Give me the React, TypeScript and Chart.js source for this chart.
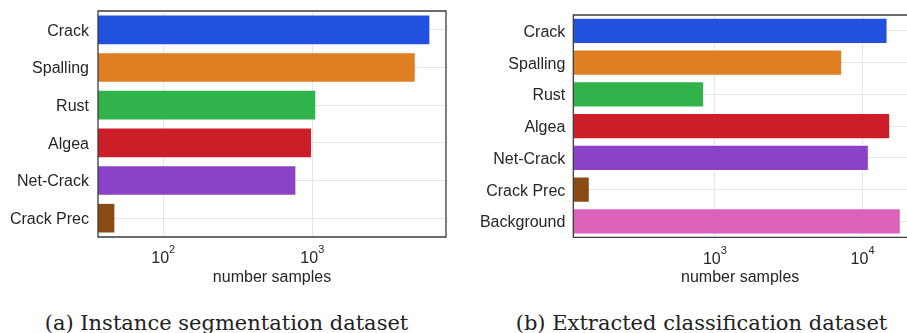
import React, { useEffect, useRef } from "react";
import { Chart, registerables } from "chart.js";

Chart.register(...registerables);

// Instance segmentation dataset: samples per class
const segCategories = ["Crack", "Spalling", "Rust", "Algea", "Net-Crack", "Crack Prec"];
const segCounts = [6100, 4870, 1047, 980, 770, 47];

// Extracted classification dataset: samples per class
const clsCategories = ["Crack", "Spalling", "Rust", "Algea", "Net-Crack", "Crack Prec", "Background"];
const clsCounts = [14540, 7165, 833, 15150, 10860, 140, 17870];

// Major ticks on the log axes (decades)
const segTicks = [100, 1000];
const clsTicks = [1000, 10000];

const axisTitle = "number samples";
const captionA = "(a) Instance segmentation dataset";
const captionB = "(b) Extracted classification dataset";

const palette = ["#2251e0", "#e07e22", "#2fb34a", "#cc1e28", "#8942c8", "#8a4a14", "#dc61b8"];

const SANS = "'Liberation Sans', Arial, sans-serif";
const TEXT = "#262626";
const GRID = "#e6e6e6";

// Dark frame around the plot area
const framePlugin = {
  id: "frame",
  afterDatasetsDraw(chart: any, _args: any, opts: any) {
    const { ctx, chartArea } = chart;
    const { left, top, right, bottom } = chartArea;
    ctx.save();
    ctx.strokeStyle = "#3c3c3c";
    ctx.lineWidth = 1.3;
    ctx.beginPath();
    if (opts.closed) {
      ctx.rect(left, top, right - left, bottom - top);
    } else {
      ctx.moveTo(right + 2, top);
      ctx.lineTo(left, top);
      ctx.lineTo(left, bottom);
      ctx.lineTo(right + 2, bottom);
    }
    ctx.stroke();
    ctx.restore();
  },
};

// Log-axis labels written as 10 with a raised exponent
const powerLabelPlugin = {
  id: "powerLabels",
  afterDraw(chart: any) {
    const { ctx, chartArea } = chart;
    const scale = chart.scales.x;
    const baseY = chartArea.bottom + 26.3;
    ctx.save();
    ctx.fillStyle = TEXT;
    ctx.textBaseline = "alphabetic";
    ctx.textAlign = "left";
    for (const t of scale.ticks) {
      const v = t.value;
      const exp = String(Math.round(Math.log10(v)));
      const x = scale.getPixelForValue(v);
      ctx.font = `16px ${SANS}`;
      const wBase = ctx.measureText("10").width;
      ctx.font = `11px ${SANS}`;
      const wExp = ctx.measureText(exp).width;
      const x0 = x - (wBase + wExp) / 2;
      ctx.font = `16px ${SANS}`;
      ctx.fillText("10", x0, baseY);
      ctx.font = `11px ${SANS}`;
      ctx.fillText(exp, x0 + wBase, baseY - 10);
    }
    ctx.restore();
  },
};

type PanelProps = {
  labels: string[];
  values: number[];
  ticks: number[];
  min: number;
  max: number;
  width: number;
  height: number;
  top: number;
  right: number;
  yWidth: number;
  plotBottom: number;
  labelPad: number;
  closed: boolean;
};

function BarPanel(p: PanelProps) {
  const ref = useRef<HTMLCanvasElement | null>(null);
  useEffect(() => {
    if (!ref.current) return;
    const chart = new Chart(ref.current, {
      type: "bar",
      data: {
        labels: p.labels,
        datasets: [
          {
            data: p.values,
            backgroundColor: palette.slice(0, p.values.length),
            borderWidth: 0,
            barPercentage: 0.76,
            categoryPercentage: 1,
          },
        ],
      },
      options: {
        indexAxis: "y",
        responsive: false,
        animation: false,
        layout: { padding: { top: p.top, right: p.right, left: 0, bottom: 0 } },
        plugins: {
          legend: { display: false },
          tooltip: { enabled: false },
          frame: { closed: p.closed },
        } as any,
        scales: {
          x: {
            type: "logarithmic",
            min: p.min,
            max: p.max,
            afterBuildTicks: (s: any) => {
              s.ticks = p.ticks.map((v) => ({ value: v, major: true }));
            },
            afterFit: (s: any) => {
              s.height = p.height - p.plotBottom;
              s.paddingLeft = 0;
              s.paddingRight = 0;
            },
            grid: { color: GRID, lineWidth: 1, drawTicks: false },
            border: { display: false },
            ticks: { display: false },
            title: {
              display: true,
              text: axisTitle,
              font: { family: SANS, size: 16 },
              color: TEXT,
              padding: { top: 0, bottom: 7.6 },
            },
          },
          y: {
            grid: { offset: false, color: GRID, lineWidth: 1, drawTicks: false },
            border: { display: false },
            ticks: {
              font: { family: SANS, size: 16 },
              color: TEXT,
              padding: p.labelPad,
              labelOffset: 1.5,
              autoSkip: false,
            },
            afterFit: (s: any) => {
              s.width = p.yWidth;
              s.paddingTop = 0;
              s.paddingBottom = 0;
            },
          },
        },
      } as any,
      plugins: [framePlugin, powerLabelPlugin],
    });
    return () => chart.destroy();
  }, []);
  return (
    <canvas
      ref={ref}
      width={p.width}
      height={p.height}
      style={{ display: "block", width: p.width, height: p.height }}
    />
  );
}

const captionStyle: React.CSSProperties = {
  position: "absolute",
  top: 313,
  fontFamily: "'DejaVu Serif', serif",
  fontSize: 21,
  lineHeight: "21px",
  color: "#222",
  whiteSpace: "nowrap",
  transform: "translateX(-50%)",
};

export default function App() {
  return (
    <div
      style={{
        position: "fixed",
        left: 0,
        top: 0,
        width: 907,
        height: 333,
        background: "#fff",
        overflow: "hidden",
      }}
    >
      <div style={{ position: "absolute", left: 0, top: 0 }}>
        <BarPanel
          labels={segCategories}
          values={segCounts}
          ticks={segTicks}
          min={36.5}
          max={7890}
          width={460}
          height={295}
          top={11}
          right={14}
          yWidth={98}
          plotBottom={237}
          labelPad={9}
          closed={true}
        />
      </div>
      <div style={{ position: "absolute", left: 460, top: 0 }}>
        <BarPanel
          labels={clsCategories}
          values={clsCounts}
          ticks={clsTicks}
          min={110}
          max={20000}
          width={447}
          height={295}
          top={15}
          right={0}
          yWidth={113.3}
          plotBottom={237.3}
          labelPad={8}
          closed={false}
        />
      </div>
      <div style={{ ...captionStyle, left: 226.5 }}>{captionA}</div>
      <div style={{ ...captionStyle, left: 701.5 }}>{captionB}</div>
    </div>
  );
}
